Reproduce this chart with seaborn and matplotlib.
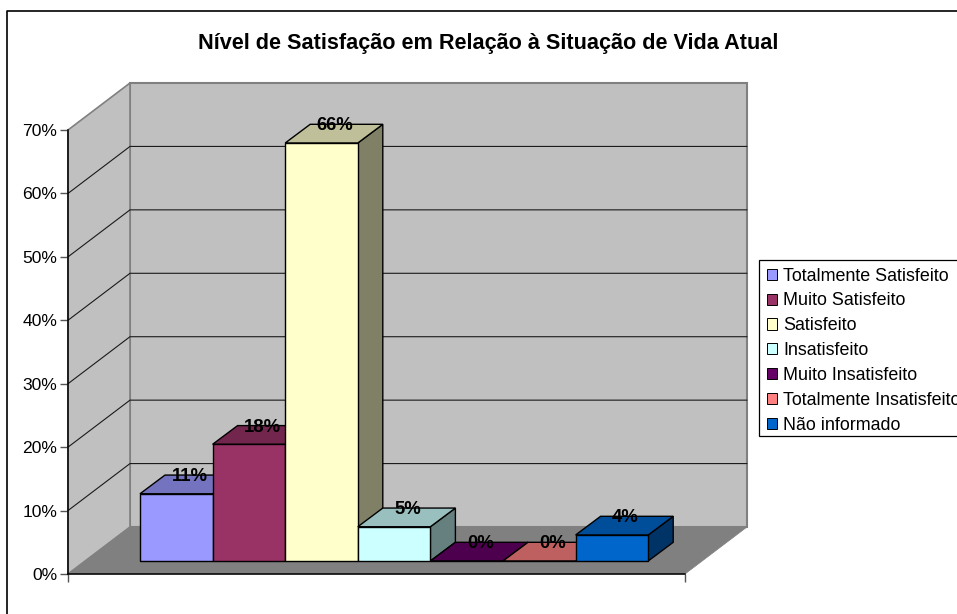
import matplotlib
matplotlib.use("Agg")
import matplotlib.pyplot as plt
from matplotlib.lines import Line2D
from matplotlib.patches import Patch, Polygon, Rectangle
from matplotlib.transforms import Affine2D, IdentityTransform
import pandas as pd
import seaborn as sns

categories = ["Totalmente Satisfeito", "Muito Satisfeito", "Satisfeito", "Insatisfeito",
              "Muito Insatisfeito", "Totalmente Insatisfeito", "Não informado"]
values = [10.6, 18.4, 65.9, 5.4, 0.0, 0.0, 4.1]
colors = ["#9999FF", "#993366", "#FFFFCC", "#CCFFFF", "#660066", "#FF8080", "#0066CC"]
title = "Nível de Satisfação em Relação à Situação de Vida Atual"
y_ticks = [0, 10, 20, 30, 40, 50, 60, 70]

sns.set_style("white")
plt.rcParams["font.family"] = ["Liberation Sans", "DejaVu Sans"]

W, H = 957, 614
FS = 12.6
fig = plt.figure(figsize=(W / 100, H / 100), dpi=100, facecolor="white")
ax = fig.add_axes([68 / W, (H - 574) / H, 617 / W, 444 / H], facecolor="none")

df = pd.DataFrame({"cat": categories, "val": values})
sns.barplot(data=df, x="cat", y="val", hue="cat", order=categories, hue_order=categories,
            palette=colors, saturation=1, width=1, dodge=False, legend=False, ax=ax)
bars = sorted(ax.patches, key=lambda p: p.get_x())

unit = 72.6
x0 = -0.5 - (140 - 17 - 68) / unit
ax.set_xlim(x0, x0 + 617 / unit)
ax.set_ylim(0, 70)
ax.set_xlabel("")
ax.set_ylabel("")
ax.set_xticks([x0, x0 + 617 / unit], ["", ""])
ax.set_yticks(y_ticks, [f"{v}%" for v in y_ticks], fontsize=FS, color="black")
ax.tick_params(axis="both", length=5.8, width=1, color="#555555", left=True, bottom=True, pad=2)
for side in ("top", "right"):
    ax.spines[side].set_visible(False)
for side in ("left", "bottom"):
    ax.spines[side].set_visible(True)
    ax.spines[side].set_color("black")
    ax.spines[side].set_linewidth(1.1)
    ax.spines[side].set_zorder(2.5)


def px(x, v, dx=0.0, dy=0.0):
    a, b = ax.transData.transform((x, v))
    return (a + dx, b + dy)


def poly(pts, face, edge, lw, z):
    ax.add_patch(Polygon(pts, closed=True, facecolor=face, edgecolor=edge, linewidth=lw,
                         transform=IdentityTransform(), clip_on=False, zorder=z))


xl, xr = x0, x0 + 617 / unit
WX, WY = 62, 47    # depth of the chart box
GX, GY = 17, 13    # front plane of the bars
BX, BY = 25, 18.7  # depth of the bars
WALL, FLOOR, WEDGE = "#C0C0C0", "#808080", "#808080"

poly([px(xl, 0, WX, WY), px(xr, 0, WX, WY), px(xr, 70, WX, WY), px(xl, 70, WX, WY)], WALL, WEDGE, 1.5, 0.5)
poly([px(xl, 0), px(xl, 0, WX, WY), px(xl, 70, WX, WY), px(xl, 70)], WALL, WEDGE, 1.2, 0.6)
poly([px(xl, 0), px(xr, 0), px(xr, 0, WX, WY), px(xl, 0, WX, WY)], FLOOR, FLOOR, 0.5, 0.7)
for v in y_ticks[1:-1]:
    xs, ys = zip(px(xl, v), px(xl, v, WX, WY), px(xr, v, WX, WY))
    ax.add_line(Line2D(xs, ys, color="#1a1a1a", lw=0.8, transform=IdentityTransform(),
                       clip_on=False, zorder=0.8))

shift = ax.transData + Affine2D().translate(GX, GY)
for i, p in enumerate(bars):
    x, w, h = p.get_x(), p.get_width(), p.get_height()
    r, g, b, _ = p.get_facecolor()
    z = 3 + i * 0.1
    top = (r * .75, g * .75, b * .75)
    side = (r * .5, g * .5, b * .5)
    ox, oy = GX + BX, GY + BY
    poly([px(x + w, 0, GX, GY), px(x + w, 0, ox, oy), px(x + w, h, ox, oy), px(x + w, h, GX, GY)],
         side, "black", 1.0, z)
    poly([px(x, h, GX, GY), px(x + w, h, GX, GY), px(x + w, h, ox, oy), px(x, h, ox, oy)],
         top, "black", 1.0, z + 0.01)
    p.set_transform(shift)
    p.set_clip_on(False)
    p.set_edgecolor("black")
    p.set_linewidth(1.0)
    p.set_zorder(z + 0.02)
    tx, ty = px(x + w / 2, h, GX + BX / 2 + 1, oy - 1.5)
    ax.text(tx, ty, f"{round(values[i])}%", transform=IdentityTransform(), ha="center", va="center",
            fontsize=13.3, fontweight="bold", color="black", zorder=6, clip_on=False)

fig.text(488 / W, 1 - 44 / H, title, ha="center", va="center", fontsize=15.6, fontweight="bold", color="black")

fig.add_artist(Rectangle((759 / W, 1 - 436 / H), 210 / W, 176 / H, transform=fig.transFigure,
                         facecolor="white", edgecolor="black", linewidth=0.9))
handles = [Patch(facecolor=c, edgecolor="black", linewidth=0.7) for c in colors]
fig.legend(handles, categories, loc="upper left", bbox_to_anchor=(759 / W, 1 - 260 / H),
           fontsize=12.9, frameon=False, borderaxespad=0, borderpad=0.42, labelspacing=0.44,
           handlelength=0.58, handleheight=0.58, handletextpad=0.34, labelcolor="black")

fig.add_artist(Line2D([7 / W, 7 / W, 1], [0, 1 - 10.5 / H, 1 - 10.5 / H], color="black", lw=1.2))

fig.savefig("out.png", dpi=100)
